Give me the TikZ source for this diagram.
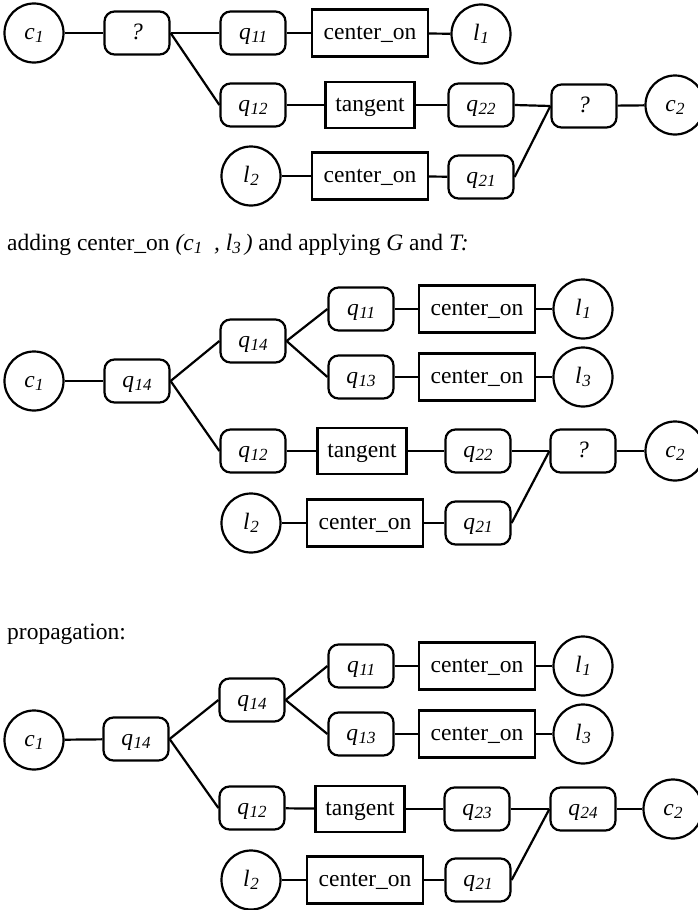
\documentclass[tikz,border=0pt]{standalone}
\usepackage{fontspec}
\setmainfont{Liberation Serif}
\newcommand\sbs[1]{\raisebox{-0.32ex}{\fontsize{17}{17}\selectfont\textit{#1}}}
\newcommand\qq[2]{\textit{#1}\kern0.5pt\sbs{#2}}
\begin{document}
\begin{tikzpicture}[x=1pt,y=-1pt,
  every node/.style={font=\fontsize{23.5}{28}\selectfont},
  conn/.style={line width=2.2pt},
  shp/.style={draw,line width=2.2pt,inner sep=0pt,text height=13pt,text depth=0pt},
  circ/.style={shp,circle,minimum size=59pt},
  qbox/.style={shp,rounded corners=10pt,minimum width=65pt,minimum height=43pt},
  cobox/.style={shp,minimum width=116pt,minimum height=47pt},
  tgbox/.style={shp,minimum width=89pt,minimum height=46pt},
  lbl/.style={anchor=base west,inner sep=0pt}]
\useasboundingbox (0,0) rectangle (698,910);

% ---------- section 1 ----------
\node[circ] (c1a) at (34,33) {\qq{c}{1}};
\node[qbox] (qa1) at (137,33) {\textit{?}};
\node[qbox] (q11a) at (253,33) {\qq{q}{11}};
\node[cobox] (coa1) at (370,33) {center\_on};
\node[circ] (l1a) at (481,34) {\qq{l}{1}};
\node[qbox] (q12a) at (253,105) {\qq{q}{12}};
\node[tgbox] (tana) at (370,105) {tangent};
\node[qbox] (q22a) at (481,105) {\qq{q}{22}};
\node[qbox] (qa2) at (584,106) {\textit{?}};
\node[circ] (c2a) at (675,105) {\qq{c}{2}};
\node[circ] (l2a) at (251,176) {\qq{l}{2}};
\node[cobox] (coa2) at (370,176) {center\_on};
\node[qbox] (q21a) at (481,177) {\qq{q}{21}};

\draw[conn] (c1a) -- (qa1);
\draw[conn] (qa1.east) -- (q11a.west);
\draw[conn] (qa1.east) -- (q12a.west);
\draw[conn] (q11a) -- (coa1);
\draw[conn] (coa1) -- (l1a);
\draw[conn] (q12a) -- (tana);
\draw[conn] (tana) -- (q22a);
\draw[conn] (q22a.east) -- (qa2.west);
\draw[conn] (q21a.east) -- (qa2.west);
\draw[conn] (qa2) -- (c2a);
\draw[conn] (l2a) -- (coa2);
\draw[conn] (coa2) -- (q21a);

\node[lbl] (t1) at (7,250) {adding center\_on \textit{(c}\sbs{1}\textit{\ \ , l}\sbs{3}\textit{\,)} and applying \textit{G} and \textit{T:}};

% ---------- section 2 ----------
\node[circ] (c1b) at (34,381) {\qq{c}{1}};
\node[qbox] (q14b) at (137,381) {\qq{q}{14}};
\node[qbox] (q14ub) at (253,341) {\qq{q}{14}};
\node[qbox] (q11b) at (361,309) {\qq{q}{11}};
\node[cobox] (cob1) at (477,309) {center\_on};
\node[circ] (l1b) at (583,309) {\qq{l}{1}};
\node[qbox] (q13b) at (361,377) {\qq{q}{13}};
\node[cobox] (cob2) at (477,377) {center\_on};
\node[circ] (l3b) at (583,377) {\qq{l}{3}};
\node[qbox] (q12b) at (253,451) {\qq{q}{12}};
\node[tgbox] (tanb) at (362,451) {tangent};
\node[qbox] (q22b) at (478,451) {\qq{q}{22}};
\node[qbox] (qb2) at (583,451) {\textit{?}};
\node[circ] (c2b) at (675,451) {\qq{c}{2}};
\node[circ] (l2b) at (251,523) {\qq{l}{2}};
\node[cobox] (cob3) at (365,523) {center\_on};
\node[qbox] (q21b) at (478,523) {\qq{q}{21}};

\draw[conn] (c1b) -- (q14b);
\draw[conn] (q14b.east) -- (q14ub.west);
\draw[conn] (q14b.east) -- (q12b.west);
\draw[conn] (q14ub.east) -- (q11b.west);
\draw[conn] (q14ub.east) -- (q13b.west);
\draw[conn] (q11b) -- (cob1);
\draw[conn] (cob1) -- (l1b);
\draw[conn] (q13b) -- (cob2);
\draw[conn] (cob2) -- (l3b);
\draw[conn] (q12b) -- (tanb);
\draw[conn] (tanb) -- (q22b);
\draw[conn] (q22b.east) -- (qb2.west);
\draw[conn] (q21b.east) -- (qb2.west);
\draw[conn] (qb2) -- (c2b);
\draw[conn] (l2b) -- (cob3);
\draw[conn] (cob3) -- (q21b);

\node[lbl] (t2) at (7,639) {propagation:};

% ---------- section 3 ----------
\node[circ] (c1c) at (34,740) {\qq{c}{1}};
\node[qbox] (q14c) at (136,739) {\qq{q}{14}};
\node[qbox] (q14uc) at (252,700) {\qq{q}{14}};
\node[qbox] (q11c) at (361,666) {\qq{q}{11}};
\node[cobox] (coc1) at (477,666) {center\_on};
\node[circ] (l1c) at (583,666) {\qq{l}{1}};
\node[qbox] (q13c) at (361,734) {\qq{q}{13}};
\node[cobox] (coc2) at (477,734) {center\_on};
\node[circ] (l3c) at (583,734) {\qq{l}{3}};
\node[qbox] (q12c) at (252,808) {\qq{q}{12}};
\node[tgbox] (tanc) at (360,809) {tangent};
\node[qbox] (q23c) at (477,809) {\qq{q}{23}};
\node[qbox] (q24c) at (583,809) {\qq{q}{24}};
\node[circ] (c2c) at (673,809) {\qq{c}{2}};
\node[circ] (l2c) at (251,880) {\qq{l}{2}};
\node[cobox] (coc3) at (365,880) {center\_on};
\node[qbox] (q21c) at (478,880) {\qq{q}{21}};

\draw[conn] (c1c) -- (q14c);
\draw[conn] (q14c.east) -- (q14uc.west);
\draw[conn] (q14c.east) -- (q12c.west);
\draw[conn] (q14uc.east) -- (q11c.west);
\draw[conn] (q14uc.east) -- (q13c.west);
\draw[conn] (q11c) -- (coc1);
\draw[conn] (coc1) -- (l1c);
\draw[conn] (q13c) -- (coc2);
\draw[conn] (coc2) -- (l3c);
\draw[conn] (q12c) -- (tanc);
\draw[conn] (tanc) -- (q23c);
\draw[conn] (q23c.east) -- (q24c.west);
\draw[conn] (q21c.east) -- (q24c.west);
\draw[conn] (q24c) -- (c2c);
\draw[conn] (l2c) -- (coc3);
\draw[conn] (coc3) -- (q21c);
\end{tikzpicture}
\end{document}
